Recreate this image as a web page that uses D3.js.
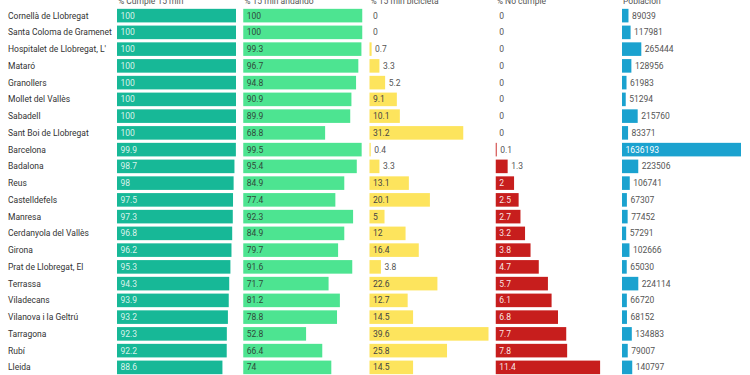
<!DOCTYPE html>
<html>
<head>
	<meta charset="utf-8">
	<title>Cumple 15 min</title>
	<script src="https://d3js.org/d3.v7.min.js"></script>
	<style>
		body { margin: 0; background: #fff; }
		text { font-family: Roboto, sans-serif; }
	</style>
</head>
<body>
	<div class="chart"></div>

	<script type="text/javascript">
		const cities = ['Cornellà de Llobregat', 'Santa Coloma de Gramenet', "Hospitalet de Llobregat, L'", 'Mataró', 'Granollers',
			'Mollet del Vallès', 'Sabadell', 'Sant Boi de Llobregat', 'Barcelona', 'Badalona', 'Reus', 'Castelldefels', 'Manresa',
			'Cerdanyola del Vallès', 'Girona', 'Prat de Llobregat, El', 'Terrassa', 'Viladecans', 'Vilanova i la Geltrú',
			'Tarragona', 'Rubí', 'Lleida']
		const cumple = [100, 100, 100, 100, 100, 100, 100, 100, 99.9, 98.7, 98, 97.5, 97.3, 96.8, 96.2, 95.3, 94.3, 93.9, 93.2, 92.3, 92.2, 88.6]
		const andando = [100, 100, 99.3, 96.7, 94.8, 90.9, 89.9, 68.8, 99.5, 95.4, 84.9, 77.4, 92.3, 84.9, 79.7, 91.6, 71.7, 81.2, 78.8, 52.8, 66.4, 74]
		const bicicleta = [0, 0, 0.7, 3.3, 5.2, 9.1, 10.1, 31.2, 0.4, 3.3, 13.1, 20.1, 5, 12, 16.4, 3.8, 22.6, 12.7, 14.5, 39.6, 25.8, 14.5]
		const noCumple = [0, 0, 0, 0, 0, 0, 0, 0, 0.1, 1.3, 2, 2.5, 2.7, 3.2, 3.8, 4.7, 5.7, 6.1, 6.8, 7.7, 7.8, 11.4]
		const poblacion = [89039, 117981, 265444, 128956, 61983, 51294, 215760, 83371, 1636193, 223506, 106741, 67307, 77452,
			57291, 102666, 65030, 224114, 66720, 68152, 134883, 79007, 140797]
		const headers = ['% Cumple 15 min', '% 15 min andando', '% 15 min bicicleta', '% No cumple', 'Población']

		const width = 750
		const height = 375
		const fontSize = 8.5

		// columnas: color de barra, color de etiqueta dentro / fuera
		const columns = [
			{ values: cumple, max: 100, color: '#17b897', inside: 'rgba(255,255,255,0.85)', outside: '#444' },
			{ values: andando, max: 100, color: '#4de491', inside: '#2f4a3a', outside: '#444' },
			{ values: bicicleta, max: 39.6, color: '#fde45d', inside: '#444', outside: '#555' },
			{ values: noCumple, max: 13, color: '#c71e1d', inside: 'rgba(255,255,255,0.9)', outside: '#555' },
			{ values: poblacion, max: 1636193, color: '#1ba2cf', inside: '#fff', outside: '#555' }
		]

		const svg = d3.select('.chart').append('svg')
			.attr('width', width)
			.attr('height', height)

		const y = d3.scaleBand()
			.domain(cities)
			.range([8, 375])
			.paddingInner(0.19)
			.paddingOuter(0.05)

		const colX = d3.scalePoint()
			.domain(headers)
			.range([117, 622])

		const barW = 119

		// nombres de ciudades
		svg.append('g')
			.selectAll('text')
			.data(cities)
			.join('text')
			.attr('x', 8)
			.attr('y', d => y(d) + y.bandwidth() / 2)
			.attr('dy', '0.35em')
			.attr('font-size', fontSize)
			.attr('fill', '#333')
			.text(d => d)

		// cabeceras
		svg.append('g')
			.selectAll('text')
			.data(headers)
			.join('text')
			.attr('x', d => colX(d) + 1)
			.attr('y', 3.5)
			.attr('font-size', fontSize)
			.attr('fill', '#555')
			.text(d => d)

		const ctx = document.createElement('canvas').getContext('2d')
		ctx.font = `${fontSize}px Roboto`

		columns.forEach((col, ci) => {
			const x0 = colX(headers[ci])
			const x = d3.scaleLinear().domain([0, col.max]).range([0, barW])
			const g = svg.append('g').attr('transform', `translate(${x0},0)`)

			const rows = col.values.map((v, i) => ({ v, city: cities[i] }))

			g.selectAll('rect')
				.data(rows)
				.join('rect')
				.attr('x', 0)
				.attr('y', d => y(d.city))
				.attr('width', d => x(d.v))
				.attr('height', y.bandwidth())
				.attr('fill', col.color)

			g.selectAll('text')
				.data(rows)
				.join('text')
				.each(function (d) {
					const label = String(d.v)
					const tw = ctx.measureText(label).width
					const w = x(d.v)
					const fits = w > tw + 6
					d3.select(this)
						.attr('x', fits ? 3.5 : w + 3.5)
						.attr('fill', fits ? col.inside : col.outside)
						.text(label)
				})
				.attr('y', d => y(d.city) + y.bandwidth() / 2)
				.attr('dy', '0.35em')
				.attr('font-size', fontSize)
		})
	</script>
</body>
</html>
